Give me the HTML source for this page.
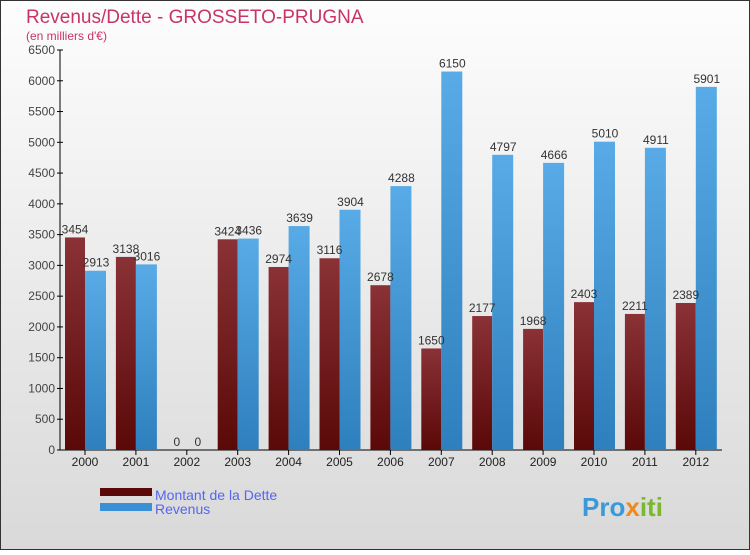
<!DOCTYPE html>
<html><head><meta charset="utf-8"><style>
body{margin:0;width:750px;height:550px;overflow:hidden;font-family:"Liberation Sans",sans-serif}
svg text{font-family:"Liberation Sans",sans-serif}
</style></head><body>
<svg width="750" height="550">
<defs>
<linearGradient id="bg" x1="0" y1="0" x2="0" y2="1"><stop offset="0" stop-color="#fdfdfd"/><stop offset="1" stop-color="#d9d9d9"/></linearGradient>
<linearGradient id="gd" x1="0" y1="0" x2="0" y2="1"><stop offset="0" stop-color="#8a3236"/><stop offset="1" stop-color="#5a0808"/></linearGradient>
<linearGradient id="gr" x1="0" y1="0" x2="0" y2="1"><stop offset="0" stop-color="#58abe6"/><stop offset="1" stop-color="#2e7fbd"/></linearGradient>
</defs>
<rect x="0.5" y="0.5" width="749" height="549" fill="url(#bg)" stroke="#333"/>
<text x="26" y="23" font-size="19" fill="#c8336a">Revenus/Dette - GROSSETO-PRUGNA</text>
<text x="26" y="40" font-size="12" fill="#c8336a">(en milliers d'€)</text>
<g id="ax"></g>
<g id="bars"></g>
<rect x="100" y="488" width="52" height="8" fill="#5a0808"/>
<rect x="100" y="503" width="52" height="8" fill="#3a90d6"/>
<text x="155" y="500" font-size="14" fill="#5566ee">Montant de la Dette</text>
<text x="155" y="514" font-size="14" fill="#5566ee">Revenus</text>
<text x="582" y="516" font-size="26" font-weight="bold" fill="#3a9ad9">Pro<tspan fill="#f08a1c">x</tspan><tspan fill="#7ab82e">iti</tspan></text>
</svg>
<script>
const years=["2000","2001","2002","2003","2004","2005","2006","2007","2008","2009","2010","2011","2012"];
const dette=[3454,3138,0,3424,2974,3116,2678,1650,2177,1968,2403,2211,2389];
const revenus=[2913,3016,0,3436,3639,3904,4288,6150,4797,4666,5010,4911,5901];
const ticks=[0,500,1000,1500,2000,2500,3000,3500,4000,4500,5000,5500,6000,6500];
const NS="http://www.w3.org/2000/svg";
const y=v=>450-v*400/6500;
const xc=i=>85+i*50.9;
function mk(t,a,p){const e=document.createElementNS(NS,t);for(const k in a)e.setAttribute(k,a[k]);p.appendChild(e);return e;}
const ax=document.getElementById('ax'),bars=document.getElementById('bars');
let l=mk('line',{x1:60,y1:50,x2:60,y2:450,stroke:'#000'},ax);


l=mk('line',{x1:60,y1:450,x2:722,y2:450,stroke:'#000'},ax);


ticks.forEach(t=>{
 mk('line',{x1:57,y1:y(t),x2:63,y2:y(t),stroke:'#000'},ax);
 const e=mk('text',{x:55,y:y(t)+4,'font-size':12,fill:'#444','text-anchor':'end'},ax);
 e.textContent=t;
 
 
});
years.forEach((yr,i)=>{
 const c=xc(i);
 mk('line',{x1:c,y1:450,x2:c,y2:455,stroke:'#000'},ax);
 let e=mk('text',{x:c,y:466,'font-size':12,fill:'#222','text-anchor':'middle'},ax);
 e.textContent=yr;
 
 
 let b=mk('rect',{x:c-20,y:y(dette[i]),width:20,height:450-y(dette[i]),fill:'url(#gd)'},bars);
 
 
 b=mk('rect',{x:c,y:y(revenus[i]),width:21,height:450-y(revenus[i]),fill:'url(#gr)'},bars);
 
 
 e=mk('text',{x:c-10,y:y(dette[i])-4,'font-size':12,fill:'#333','text-anchor':'middle'},bars);
 e.textContent=dette[i];
 
 
 e=mk('text',{x:c+11,y:y(revenus[i])-4,'font-size':12,fill:'#333','text-anchor':'middle'},bars);
 e.textContent=revenus[i];
 
 
});
</script>
</body></html>
